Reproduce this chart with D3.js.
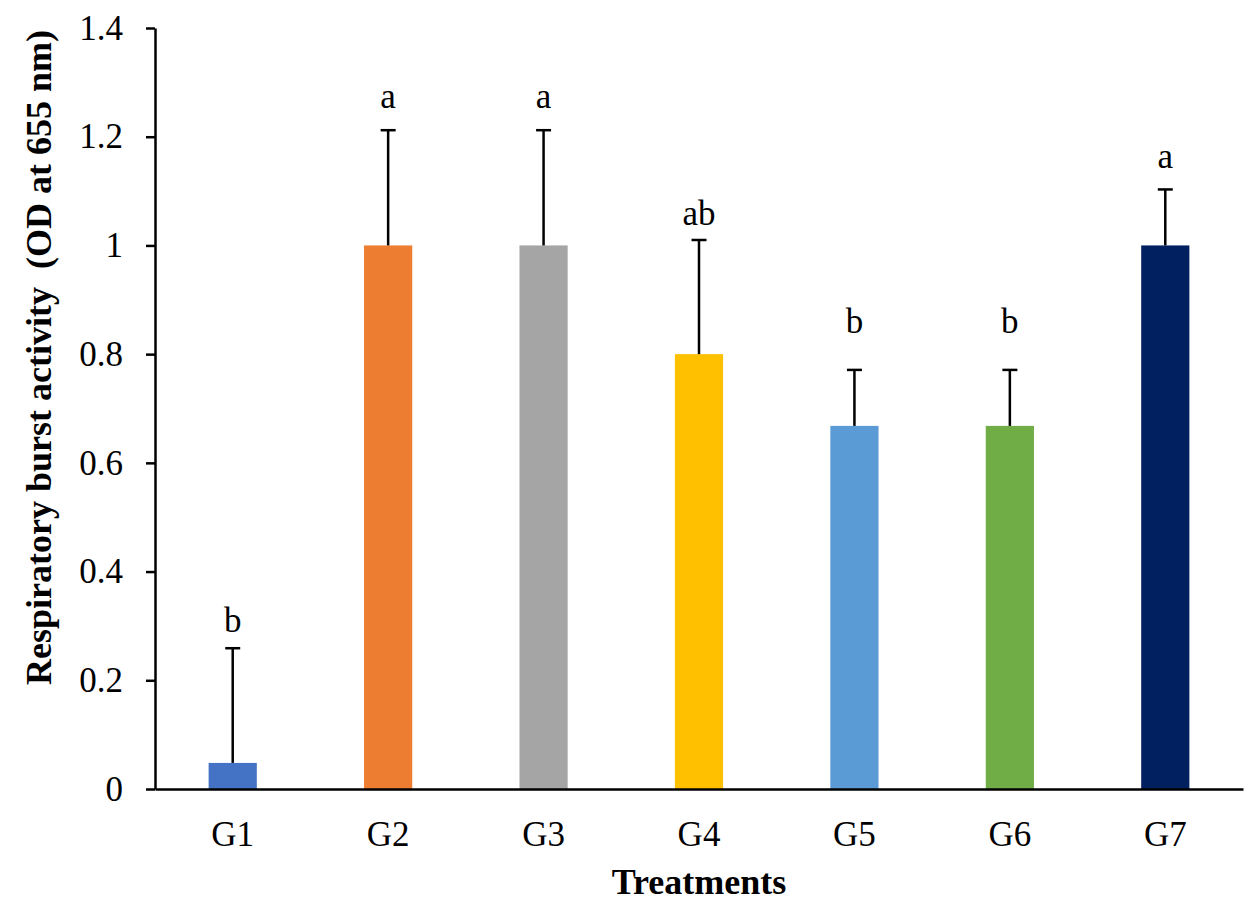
<!DOCTYPE html>
<html>
  <head>
    <meta charset="utf-8">
    <title>Respiratory burst activity</title>
    <script src="https://cdn.jsdelivr.net/npm/d3@7"></script>
    <style>
      body, html { margin: 0; padding: 0; background: #fff; }
      text { font-family: "Liberation Serif", "Times New Roman", serif; fill: #000; }
    </style>
  </head>
  <body>
    <svg id="svg" width="1248" height="911"></svg>
    <script>
      // values
      const groups = ["G1", "G2", "G3", "G4", "G5", "G6", "G7"];
      const means = [0.048, 1.0, 1.0, 0.8, 0.668, 0.668, 1.0];
      const errTops = [0.259, 1.212, 1.212, 1.010, 0.771, 0.771, 1.103];
      const letters = ["b", "a", "a", "ab", "b", "b", "a"];
      // baseline of each letter, in axis units (they were placed by hand)
      const letterAt = [0.289, 1.253, 1.253, 1.037, 0.839, 0.839, 1.142];
      const colors = ["#4472C4", "#ED7D31", "#A5A5A5", "#FFC000", "#5B9BD5", "#70AD47", "#002060"];
      const yTicks = [0, 0.2, 0.4, 0.6, 0.8, 1, 1.2, 1.4];

      const plotLeft = 155, plotRight = 1243, plotTop = 28, plotBottom = 789;

      const svg = d3.select("#svg");

      const xscale = d3.scaleBand()
        .domain(groups)
        .range([plotLeft, plotRight])
        .paddingInner(0.69)
        .paddingOuter(0.345);

      const yscale = d3.scaleLinear()
        .domain([0, 1.4])
        .range([plotBottom, plotTop]);

      // bars
      svg.append("g")
        .selectAll("rect")
        .data(groups)
        .join("rect")
        .attr("x", d => xscale(d))
        .attr("width", xscale.bandwidth())
        .attr("y", (d, i) => yscale(means[i]))
        .attr("height", (d, i) => yscale(0) - yscale(means[i]))
        .attr("fill", (d, i) => colors[i]);

      // error bars (upper only)
      const err = svg.append("g")
        .attr("stroke", "#000")
        .attr("stroke-width", 2.5);
      groups.forEach((g, i) => {
        const cx = xscale(g) + xscale.bandwidth() / 2;
        err.append("line")
          .attr("x1", cx).attr("x2", cx)
          .attr("y1", yscale(means[i])).attr("y2", yscale(errTops[i]));
        err.append("line")
          .attr("x1", cx - 7.5).attr("x2", cx + 7.5)
          .attr("y1", yscale(errTops[i])).attr("y2", yscale(errTops[i]));
      });

      // significance letters
      svg.append("g")
        .selectAll("text")
        .data(groups)
        .join("text")
        .attr("x", d => xscale(d) + xscale.bandwidth() / 2)
        .attr("y", (d, i) => yscale(letterAt[i]))
        .attr("text-anchor", "middle")
        .style("font-size", "35px")
        .text((d, i) => letters[i]);

      // y axis
      const leftAxis = d3.axisLeft(yscale)
        .tickValues(yTicks)
        .tickFormat(d => String(+d.toFixed(1)))
        .tickSizeInner(9)
        .tickSizeOuter(0)
        .tickPadding(23);
      const yAxis = svg.append("g")
        .attr("transform", `translate(${plotLeft}, 0)`)
        .call(leftAxis);
      yAxis.selectAll("text")
        .style("font-size", "35px")
        .style("font-family", "Liberation Serif");
      yAxis.selectAll("line, path").attr("stroke", "#000").attr("stroke-width", 2.5);

      // x axis
      const bottomAxis = d3.axisBottom(xscale)
        .tickSizeInner(0)
        .tickSizeOuter(0)
        .tickPadding(0);
      const xAxis = svg.append("g")
        .attr("transform", `translate(0, ${plotBottom})`)
        .call(bottomAxis);
      xAxis.selectAll("text")
        .attr("y", 57)
        .attr("dy", 0)
        .style("font-size", "35px")
        .style("font-family", "Liberation Serif");
      xAxis.select(".domain").attr("stroke", "#000").attr("stroke-width", 2.5);

      // axis titles
      svg.append("text")
        .attr("x", (plotLeft + plotRight) / 2)
        .attr("y", 894)
        .attr("text-anchor", "middle")
        .style("font-size", "36px")
        .style("font-weight", "bold")
        .text("Treatments");

      svg.append("text")
        .attr("transform", `translate(51, ${(28 + 687) / 2}) rotate(-90)`)
        .attr("text-anchor", "middle")
        .style("font-size", "36px")
        .style("font-weight", "bold")
        .style("white-space", "pre")
        .text("Respiratory burst activity  (OD at 655 nm)");
    </script>
  </body>
</html>
